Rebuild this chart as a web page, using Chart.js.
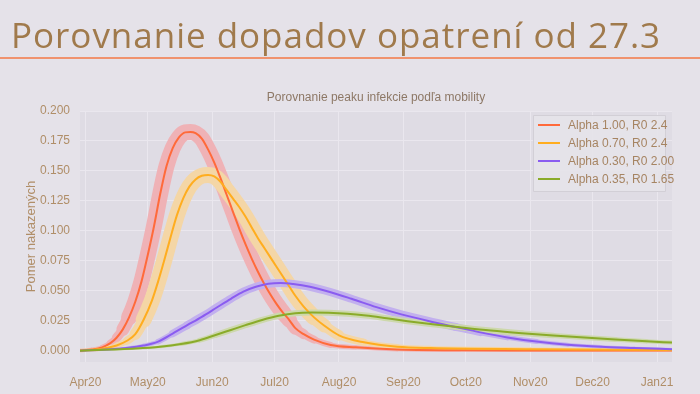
<!DOCTYPE html>
<html>
<head>
<meta charset="utf-8">
<script src="https://cdn.jsdelivr.net/npm/chart.js@4"></script>
<style>
  html, body { margin:0; padding:0; }
  body { width:700px; height:394px; overflow:hidden; background:#e5e2e9; position:relative; font-family:"Liberation Sans", Arial, sans-serif; }
  #title { position:absolute; left:11px; top:13px; font-family:"Open Sans", Lato, sans-serif; font-size:35px; color:#a07a4c; white-space:nowrap; line-height:44px; z-index:2; }
  #rule { position:absolute; left:0; top:57px; width:700px; height:2px; background:#f0926e; z-index:2; }
  #wrap { position:absolute; left:0; top:0; width:700px; height:394px; z-index:1; }
</style>
</head>
<body>
<div id="title">Porovnanie dopadov opatrení od 27.3</div>
<div id="rule"></div>
<div id="wrap"><canvas id="c" width="700" height="394"></canvas></div>
<script>
// ---- data (days since 1 Apr 2020) ----
const monthDays   = [0, 30, 61, 91, 122, 153, 183, 214, 244, 275];
const monthLabels = ['Apr20','May20','Jun20','Jul20','Aug20','Sep20','Oct20','Nov20','Dec20','Jan21'];
const yTicks = [0, 0.025, 0.05, 0.075, 0.1, 0.125, 0.15, 0.175, 0.2];

const seriesLabels = ['Alpha 1.00, R0 2.4', 'Alpha 0.70, R0 2.4', 'Alpha 0.30, R0 2.00', 'Alpha 0.35, R0 1.65'];

const redDays   = [-2.6, 3, 8, 12, 15, 18, 21, 24, 27, 30, 33, 36, 39, 42, 45, 48, 50.5, 53, 56, 59, 62, 65, 68, 71, 74, 77, 80, 83, 86, 89, 92, 95, 98, 101, 105, 110, 118, 130, 150, 180, 220, 282.2];
const redValues = [0.0004, 0.0012, 0.003, 0.0065, 0.011, 0.018, 0.028, 0.041, 0.058, 0.080, 0.104, 0.131, 0.154, 0.169, 0.178, 0.1822, 0.1825, 0.1815, 0.177, 0.168, 0.157, 0.144, 0.130, 0.116, 0.102, 0.089, 0.077, 0.066, 0.056, 0.047, 0.039, 0.032, 0.026, 0.019, 0.014, 0.0095, 0.005, 0.003, 0.0012, 0.0006, 0.0004, 0.0003];

const orangeDays   = [-2.6, 5, 10, 15, 20, 24, 28, 32, 35, 38, 41, 44, 47, 50, 53, 56, 59, 62, 65, 68, 71, 74, 77, 80, 83, 86, 89, 92, 95, 98, 101, 105, 110, 115, 122, 134, 150, 166, 214, 282.2];
const orangeValues = [0.0003, 0.0012, 0.0025, 0.0045, 0.0085, 0.014, 0.026, 0.042, 0.058, 0.076, 0.095, 0.113, 0.127, 0.137, 0.143, 0.146, 0.1467, 0.1455, 0.141, 0.134, 0.127, 0.120, 0.112, 0.103, 0.094, 0.086, 0.078, 0.070, 0.062, 0.054, 0.046, 0.037, 0.028, 0.021, 0.013, 0.0072, 0.0035, 0.0024, 0.0015, 0.0008];

const purpleDays   = [-2.6, 10, 20, 28, 35, 42, 49, 56, 63, 70, 76, 82, 88, 94, 100, 108, 118, 128, 140, 152, 165, 178, 190, 203, 217, 232, 248, 264, 282.2];
const purpleValues = [0.0002, 0.0012, 0.0025, 0.0045, 0.0078, 0.0145, 0.0215, 0.0285, 0.036, 0.0435, 0.0495, 0.0535, 0.056, 0.0567, 0.0558, 0.0535, 0.049, 0.0435, 0.0365, 0.0305, 0.025, 0.020, 0.0155, 0.0113, 0.0078, 0.0052, 0.0035, 0.0025, 0.0015];

const greenDays   = [-2.6, 12, 24, 36, 46, 55, 63, 70, 77, 85, 93, 101, 109, 117, 126, 135, 145, 155, 167, 180, 195, 210, 225, 240, 255, 270, 282.2];
const greenValues = [0.0002, 0.0012, 0.002, 0.0035, 0.0058, 0.009, 0.0135, 0.0175, 0.0215, 0.0258, 0.0293, 0.0315, 0.032, 0.0318, 0.031, 0.0295, 0.0272, 0.0248, 0.0222, 0.0197, 0.0170, 0.0148, 0.0129, 0.0112, 0.0096, 0.0081, 0.0070];

// ---- styling ----
const lineColors = ['#ff6a3a', '#ffad1f', '#8a5cf0', '#8aab2a'];
const bandColors = ['#efb2b6', '#f4d6a6', '#c2b0ee', '#cdd8ac'];
const bandMaxW   = [16, 16, 8, 6];
const bandMinW   = [3, 3, 2, 2];
const bandFullAt = [0.03, 0.03, 0.02, 0.015];
const tickColor = '#b08e68';

function pts(days, vals) { return days.map((d, i) => ({x: d, y: vals[i]})); }
const allSeries = [pts(redDays, redValues), pts(orangeDays, orangeValues), pts(purpleDays, purpleValues), pts(greenDays, greenValues)];

const datasets = [];
allSeries.forEach((data, i) => {
  datasets.push({ label: '_band' + i, data, borderColor: bandColors[i], borderWidth: bandMaxW[i],
    pointRadius: 0, cubicInterpolationMode: 'monotone', borderJoinStyle: 'round', borderCapStyle: 'round', order: 20 - i,
    segment: { borderWidth: c => {
      const v = (data[c.p0DataIndex].y + data[c.p1DataIndex].y) / 2;
      const f = Math.min(1, v / bandFullAt[i]);
      return Math.round((bandMinW[i] + (bandMaxW[i] - bandMinW[i]) * f) * 2) / 2;
    } } });
});
allSeries.forEach((data, i) => {
  datasets.push({ label: seriesLabels[i], data, borderColor: lineColors[i], borderWidth: 2,
    pointRadius: 0, cubicInterpolationMode: 'monotone', order: 5 - i });
});

const bgPlugin = {
  id: 'bg',
  beforeDraw(chart) {
    const {ctx, chartArea: a} = chart;
    ctx.save();
    ctx.fillStyle = '#dfdce4';
    ctx.fillRect(a.left, a.top, a.right - a.left, a.bottom - a.top);
    ctx.restore();
  },
  afterDraw(chart) {
    const {ctx, chartArea: a} = chart;
    ctx.save();
    ctx.fillStyle = '#8d7866';
    ctx.font = '12px "Liberation Sans", Arial, sans-serif';
    ctx.textAlign = 'center';
    ctx.textBaseline = 'middle';
    ctx.fillText('Porovnanie peaku infekcie podľa mobility', (a.left + a.right) / 2, 98);
    const bx = 533, by = 115, bw = 132, bh = 76;
    ctx.fillStyle = 'rgba(230,227,233,0.9)';
    ctx.strokeStyle = '#d2cfd6';
    ctx.lineWidth = 1;
    ctx.beginPath();
    ctx.rect(bx + 0.5, by + 0.5, bw, bh);
    ctx.fill(); ctx.stroke();
    ctx.textAlign = 'left';
    seriesLabels.forEach((lab, i) => {
      const y = by + 10 + i * 18;
      ctx.strokeStyle = lineColors[i];
      ctx.lineWidth = 2;
      ctx.beginPath(); ctx.moveTo(538, y); ctx.lineTo(560, y); ctx.stroke();
      ctx.fillStyle = '#a68462';
      ctx.fillText(lab, 568, y + 1);
    });
    ctx.restore();
  }
};

new Chart(document.getElementById('c'), {
  type: 'line',
  data: { datasets },
  plugins: [bgPlugin],
  options: {
    responsive: false,
    animation: false,
    layout: { padding: { left: 0, right: 28, top: 111, bottom: 0 } },
    plugins: { legend: { display: false }, tooltip: { enabled: false }, title: { display: false } },
    scales: {
      x: {
        type: 'linear', min: -2.6, max: 282.2,
        afterBuildTicks: s => { s.ticks = monthDays.map(v => ({value: v})); },
        afterFit: s => { s.height = 32; },
        grid: { color: '#eae7ee', lineWidth: 1, drawTicks: false },
        border: { display: false },
        ticks: { autoSkip: false, maxRotation: 0, padding: 13, color: tickColor,
          font: { family: '"Liberation Sans", Arial, sans-serif', size: 12 },
          callback: v => monthLabels[monthDays.indexOf(v)] }
      },
      y: {
        type: 'linear', min: -0.0092, max: 0.2,
        afterBuildTicks: s => { s.ticks = yTicks.map(v => ({value: v})); },
        afterFit: s => { s.width = 80; },
        grid: { color: '#eae7ee', lineWidth: 1, drawTicks: false },
        border: { display: false },
        ticks: { padding: 10, color: tickColor,
          font: { family: '"Liberation Sans", Arial, sans-serif', size: 12 },
          callback: v => v.toFixed(3) },
        title: { display: true, text: 'Pomer nakazených', color: tickColor,
          font: { family: '"Liberation Sans", Arial, sans-serif', size: 13 },
          padding: { top: 24, bottom: 0 } }
      }
    }
  }
});

// stretch the slide title to the reference width with letter spacing
const t = document.getElementById('title');
const targetW = 649;
const n = t.textContent.length;
const w = t.getBoundingClientRect().width;
t.style.letterSpacing = ((targetW - w) / (n - 1)).toFixed(2) + 'px';
</script>
</body>
</html>
